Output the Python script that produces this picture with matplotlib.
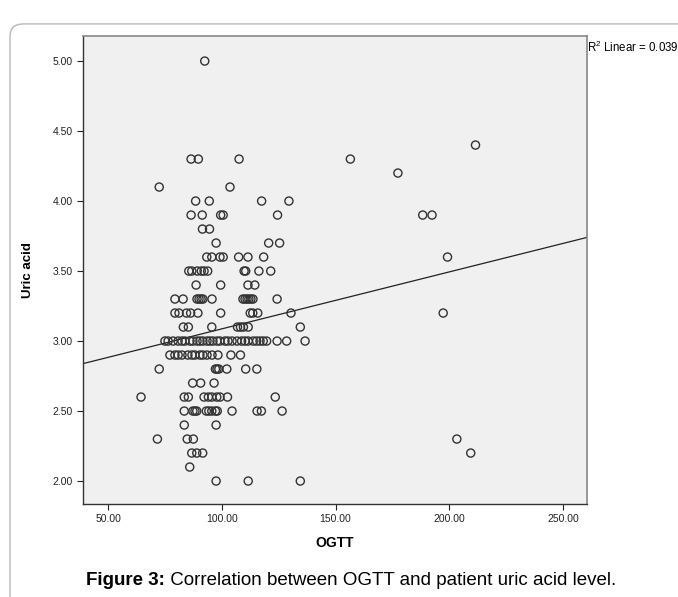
import numpy as np
import matplotlib
matplotlib.use('Agg')
import matplotlib.pyplot as plt
from matplotlib.patches import FancyBboxPatch

plt.rcParams['font.family'] = ['Liberation Sans', 'DejaVu Sans']
plt.rcParams['mathtext.fontset'] = 'custom'
plt.rcParams['mathtext.rm'] = 'Liberation Sans'

# OGTT values per uric acid level
rows = {
    5.0: [92.5],
    4.4: [211.5],
    4.3: [86.5, 89.7, 107.6, 156.5],
    4.2: [177.4],
    4.1: [72.5, 103.6],
    4.0: [88.5, 94.5, 117.5, 129.5],
    3.9: [86.5, 91.4, 99.5, 100.6, 124.5, 188.3, 192.4],
    3.8: [91.5, 94.6],
    3.7: [97.5, 120.6, 125.4],
    3.6: [93.4, 95.6, 99.2, 100.6, 107.4, 111.5, 118.4, 199.2],
    3.5: [85.5, 86.8, 89.2, 91.0, 92.2, 93.8, 109.8, 110.5, 116.3, 121.5],
    3.4: [88.7, 99.5, 111.5, 114.5],
    3.3: [79.4, 83.0, 89.1, 90.0, 90.9, 91.7, 95.7, 109.3, 110.2, 111.1,
          111.9, 112.8, 113.7, 124.3],
    3.2: [79.4, 81.2, 84.5, 86.3, 89.5, 99.5, 112.5, 113.6, 115.8, 130.4, 197.3],
    3.1: [83.1, 85.3, 95.6, 106.9, 108.2, 109.5, 111.6, 134.5],
    3.0: [75.0, 76.4, 78.6, 80.8, 82.5, 83.8, 86.0, 87.3, 89.1, 90.4, 91.7,
          93.5, 94.8, 96.1, 97.9, 99.2, 101.4, 102.7, 104.5, 106.7, 108.7,
          110.2, 111.6, 113.8, 115.3, 116.8, 118.2, 119.7, 124.3, 128.5, 136.6],
    2.9: [77.2, 79.4, 80.8, 82.5, 85.1, 86.9, 88.2, 90.4, 91.7, 93.5, 95.7,
          98.3, 104.0, 108.2],
    2.8: [72.5, 97.2, 97.9, 98.7, 102.2, 110.5, 115.4],
    2.7: [87.2, 90.7, 96.6],
    2.6: [64.5, 83.5, 85.3, 92.2, 94.1, 95.6, 97.8, 99.2, 102.5, 123.5],
    2.5: [83.5, 87.3, 88.2, 89.0, 93.2, 94.3, 95.6, 97.2, 98.0, 104.5, 115.5,
          117.4, 126.5],
    2.4: [83.5, 97.5],
    2.3: [71.7, 84.8, 87.5, 203.3],
    2.2: [86.8, 89.0, 91.6, 209.4],
    2.1: [85.9],
    2.0: [97.5, 111.6, 134.5],
}
ogtt = [x for y, xs in rows.items() for x in xs]
uric = [y for y, xs in rows.items() for x in xs]

# fit line as drawn in the figure
fit_intercept = 2.68
fit_slope = 0.00407
r2_text = 'R$^2$ Linear = 0.039'

xticks = [50, 100, 150, 200, 250]
yticks = [2.0, 2.5, 3.0, 3.5, 4.0, 4.5, 5.0]

fig = plt.figure(figsize=(6.78, 5.97), dpi=100)

# rounded frame around the figure
frame = FancyBboxPatch((10 / 678, -0.1), 1.2, 1.08 - 12 / 597,
                       boxstyle='round,pad=0,rounding_size=0.02',
                       transform=fig.transFigure, fill=False,
                       edgecolor='#b8b8b8', linewidth=1.0)
fig.patches.append(frame)

ax = fig.add_axes([83 / 678, 1 - 504 / 597, 504 / 678, 468 / 597])
ax.set_facecolor('#f0f0f0')
ax.scatter(ogtt, uric, s=34, facecolors='none', edgecolors='#333333',
           linewidths=1.0, zorder=3)
ax.axline((0, fit_intercept), slope=fit_slope, color='#222222', lw=0.9, zorder=2)

ax.set_xlim(39.0, 260.5)
ax.set_ylim(1.836, 5.179)
ax.set_xticks(xticks)
ax.set_xticklabels(['%.2f' % v for v in xticks])
ax.set_yticks(yticks)
ax.set_yticklabels(['%.2f' % v for v in yticks])
ax.tick_params(direction='out', length=4, width=0.8, labelsize=7.5,
               colors='#222222')

for s in ['left', 'bottom']:
    ax.spines[s].set_color('#333333')
    ax.spines[s].set_linewidth(1.0)
for s in ['top', 'right']:
    ax.spines[s].set_color('#888888')
    ax.spines[s].set_linewidth(1.2)

ax.set_xlabel('OGTT', fontsize=10, fontweight='bold', labelpad=8)
ax.set_ylabel('Uric acid', fontsize=9.5, fontweight='bold', labelpad=13)

ax.text(1.0, 0.975, r2_text, transform=ax.transAxes, fontsize=8.3,
        ha='left', va='center')

t1 = fig.text(86 / 678, 1 - 585 / 597, 'Figure 3:', fontsize=13.5,
              fontweight='bold', ha='left', va='baseline')
ax.annotate(' Correlation between OGTT and patient uric acid level.',
            xy=(1, 0), xycoords=t1, fontsize=13.5, ha='left', va='bottom',
            annotation_clip=False)

fig.savefig('out.png', dpi=100)
